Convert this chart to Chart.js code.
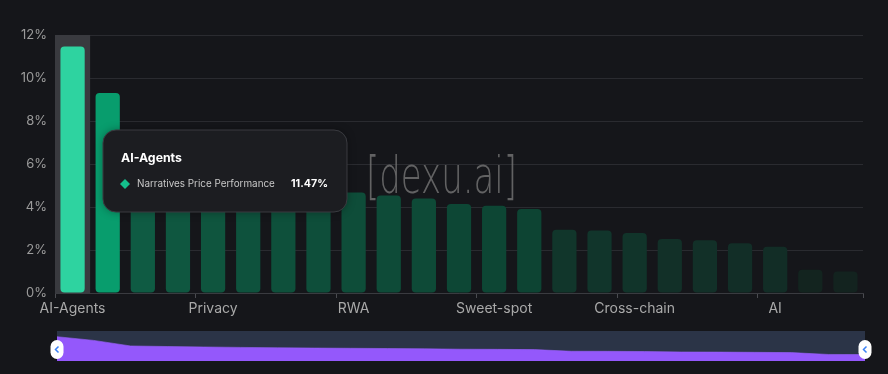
<!DOCTYPE html>
<html>
<head>
<meta charset="utf-8">
<script src="https://cdn.jsdelivr.net/npm/chart.js@4.4.1/dist/chart.umd.min.js"></script>
<style>
  html, body { margin: 0; padding: 0; background: #15161a; }
  #wrap { position: relative; width: 888px; height: 374px; background: #15161a; overflow: hidden; }
  #mainChart { position: absolute; left: 0; top: 0; }
  #zoomChart { position: absolute; left: 45px; top: 331px; }
</style>
</head>
<body>
<div id="wrap">
  <canvas id="mainChart" width="888" height="325"></canvas>
  <canvas id="zoomChart" width="833" height="30"></canvas>
</div>
<script>
// narratives, sorted by price performance (%)
const narratives = [
  "AI-Agents", "Gaming", "DePIN", "Meme", "Privacy", "Layer 1", "Layer 2", "DeFi",
  "RWA", "NFT", "Oracle", "Storage", "Sweet-spot", "Metaverse", "Liquid Staking", "Modular",
  "Cross-chain", "Social", "DEX", "Lending", "AI", "Payments", "Stablecoins"
];
const performance = [
  11.47, 9.30, 6.05, 5.72, 5.45, 5.21, 4.98, 4.82,
  4.68, 4.54, 4.40, 4.14, 4.06, 3.91, 2.94, 2.91,
  2.79, 2.51, 2.45, 2.31, 2.15, 1.08, 1.00
];
const yTicks = [0, 2, 4, 6, 8, 10, 12];
const seriesName = "Narratives Price Performance";
const activeIndex = 0;

const FONT = "Inter, 'Noto Sans', sans-serif";

// value -> colour ramp (visual map look)
const colorStops = [
  [1.0, [19, 35, 31]], [2.3, [18, 46, 39]], [2.9, [17, 53, 43]], [4.0, [13, 69, 52]],
  [4.7, [14, 77, 57]], [6.0, [15, 90, 66]], [9.3, [8, 157, 109]]
];
function rampColor(v) {
  if (v <= colorStops[0][0]) return "rgb(" + colorStops[0][1].join(",") + ")";
  for (let i = 1; i < colorStops.length; i++) {
    if (v <= colorStops[i][0]) {
      const [v0, c0] = colorStops[i - 1];
      const [v1, c1] = colorStops[i];
      const t = (v - v0) / (v1 - v0);
      const c = c0.map((x, k) => Math.round(x + (c1[k] - x) * t));
      return "rgb(" + c.join(",") + ")";
    }
  }
  return "rgb(" + colorStops[colorStops.length - 1][1].join(",") + ")";
}
const barColors = performance.map((v, i) => i === activeIndex ? "#2ed3a0" : rampColor(v));

function roundRect(ctx, x, y, w, h, r) {
  ctx.beginPath();
  ctx.moveTo(x + r, y);
  ctx.lineTo(x + w - r, y);
  ctx.arcTo(x + w, y, x + w, y + r, r);
  ctx.lineTo(x + w, y + h - r);
  ctx.arcTo(x + w, y + h, x + w - r, y + h, r);
  ctx.lineTo(x + r, y + h);
  ctx.arcTo(x, y + h, x, y + h - r, r);
  ctx.lineTo(x, y + r);
  ctx.arcTo(x, y, x + r, y, r);
  ctx.closePath();
}

// set a font whose text width matches a target width
function fitFont(ctx, text, weight, family, target) {
  ctx.font = weight + " 20px " + family;
  const size = 20 * target / ctx.measureText(text).width;
  ctx.font = weight + " " + size.toFixed(2) + "px " + family;
}

// shadow pointer behind the active bar + watermark
const backdrop = {
  id: "backdrop",
  beforeDatasetsDraw(chart) {
    const { ctx, chartArea, scales } = chart;
    const x = scales.x;
    const step = x.getPixelForValue(1) - x.getPixelForValue(0);
    const cx = x.getPixelForValue(activeIndex);
    ctx.save();
    ctx.fillStyle = "#393a3f";
    ctx.fillRect(cx - step / 2, chartArea.top, step, chartArea.bottom - chartArea.top);
    ctx.restore();
  },
  afterDatasetsDraw(chart) {
    const { ctx } = chart;
    const mark = "[dexu.ai]";
    ctx.save();
    ctx.fillStyle = "rgba(118,118,118,0.8)";
    ctx.font = "200 52px 'DejaVu Sans'";
    const sx = 151 / ctx.measureText(mark).width;
    ctx.translate(366, 193);
    ctx.scale(sx, 1);
    ctx.textAlign = "left";
    ctx.textBaseline = "alphabetic";
    ctx.fillText(mark, 0, 0);
    ctx.restore();
  }
};

// fixed tooltip card like the original
const card = {
  id: "card",
  afterDraw(chart) {
    const { ctx } = chart;
    const x = 103, y = 130, w = 244, h = 82;
    ctx.save();
    ctx.shadowColor = "rgba(0,0,0,0.35)";
    ctx.shadowBlur = 8;
    roundRect(ctx, x, y, w, h, 13);
    ctx.fillStyle = "#1c1d21";
    ctx.fill();
    ctx.shadowBlur = 0;
    ctx.strokeStyle = "#3a3b40";
    ctx.lineWidth = 1;
    ctx.stroke();

    ctx.fillStyle = "#ffffff";
    ctx.textBaseline = "middle";
    ctx.textAlign = "left";
    fitFont(ctx, narratives[activeIndex], "bold", FONT, 61);
    ctx.fillText(narratives[activeIndex], 121, 158);

    // diamond marker
    ctx.fillStyle = "#14c08c";
    ctx.beginPath();
    ctx.moveTo(125, 179);
    ctx.lineTo(130, 184);
    ctx.lineTo(125, 189);
    ctx.lineTo(120, 184);
    ctx.closePath();
    ctx.fill();

    ctx.fillStyle = "#c8c8c8";
    fitFont(ctx, seriesName, "normal", FONT, 138);
    ctx.fillText(seriesName, 137, 184);
    ctx.fillStyle = "#ffffff";
    const val = performance[activeIndex].toFixed(2) + "%";
    fitFont(ctx, val, "bold", FONT, 37);
    ctx.textAlign = "right";
    ctx.fillText(val, 328, 184);
    ctx.restore();
  }
};

new Chart(document.getElementById("mainChart"), {
  type: "bar",
  data: {
    labels: narratives,
    datasets: [{
      label: seriesName,
      data: performance,
      backgroundColor: barColors,
      borderRadius: 4,
      borderSkipped: false,
      barPercentage: 0.69,
      categoryPercentage: 1.0
    }]
  },
  options: {
    responsive: false,
    animation: false,
    layout: { padding: { top: 35, right: 25, left: 0, bottom: 0 } },
    plugins: { legend: { display: false }, tooltip: { enabled: false } },
    scales: {
      x: {
        offset: true,
        grid: {
          offset: true,
          drawOnChartArea: false,
          tickLength: 5,
          color: (c) => (c.index === undefined || c.index % 4 === 0) ? "#4a4b50" : "rgba(0,0,0,0)"
        },
        border: { display: true, color: "#3a3b40" },
        ticks: {
          autoSkip: false,
          maxRotation: 0,
          padding: 2,
          color: "#a9a9a9",
          font: { family: FONT, size: 14 },
          callback: function (value, index) {
            return index % 4 === 0 ? this.getLabelForValue(value) : "";
          }
        },
        afterFit: (s) => { s.height = 32; }
      },
      y: {
        min: yTicks[0],
        max: yTicks[yTicks.length - 1],
        afterBuildTicks: (s) => { s.ticks = yTicks.map(v => ({ value: v })); },
        grid: { color: "#2a2b30", drawTicks: false },
        border: { display: false },
        ticks: {
          padding: 8,
          color: "#9b9b9b",
          font: { family: FONT, size: 13 },
          callback: (v) => v + "%"
        },
        afterFit: (s) => { s.width = 55; }
      }
    }
  },
  plugins: [backdrop, card]
});

// data-zoom slider with data shadow
const sliderBits = {
  id: "sliderBits",
  beforeDatasetsDraw(chart) {
    const { ctx, chartArea: a } = chart;
    ctx.save();
    ctx.fillStyle = "#2b3447";
    ctx.fillRect(a.left, 0, a.right - a.left, chart.height);
    ctx.restore();
  },
  afterDraw(chart) {
    const { ctx, chartArea: a } = chart;
    [a.left, a.right].forEach((hx) => {
      ctx.save();
      roundRect(ctx, hx - 6.5, 9, 13, 19, 6.5);
      ctx.fillStyle = "#ffffff";
      ctx.fill();
      ctx.strokeStyle = "#3b82f6";
      ctx.lineWidth = 1.5;
      ctx.beginPath();
      ctx.moveTo(hx + 1.5, 15.5);
      ctx.lineTo(hx - 1.5, 18.5);
      ctx.lineTo(hx + 1.5, 21.5);
      ctx.stroke();
      ctx.restore();
    });
  }
};

new Chart(document.getElementById("zoomChart"), {
  type: "line",
  data: {
    labels: narratives,
    datasets: [{
      data: performance,
      fill: "start",
      backgroundColor: "#9458fb",
      borderColor: "#9a62fb",
      borderWidth: 0.6,
      pointRadius: 0,
      tension: 0
    }]
  },
  options: {
    responsive: false,
    animation: false,
    layout: { padding: { left: 12, right: 13, top: 0, bottom: 0 } },
    plugins: { legend: { display: false }, tooltip: { enabled: false } },
    scales: {
      x: { display: false },
      y: { display: false, min: -2.76, max: 14.8 }
    }
  },
  plugins: [sliderBits]
});
</script>
</body>
</html>
